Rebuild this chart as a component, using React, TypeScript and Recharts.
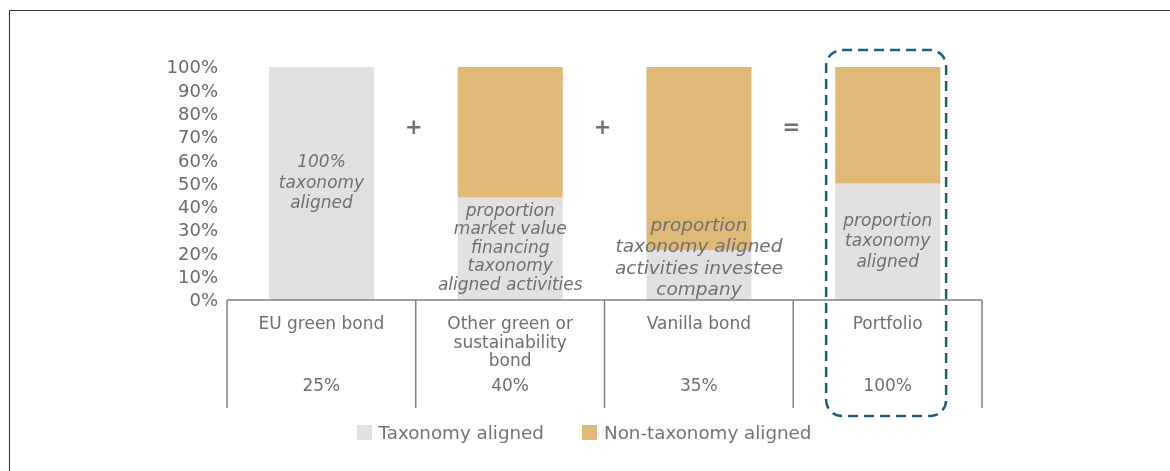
import React from 'react';
import { BarChart, Bar, XAxis, YAxis, Legend } from 'recharts';

const categories = ['EU green bond', 'Other green or\nsustainability\nbond', 'Vanilla bond', 'Portfolio'];
const weights = ['25%', '40%', '35%', '100%'];
const alignedValues = [100, 44, 21.5, 50];
const nonAlignedValues = [0, 56, 78.5, 50];
const operators = ['', '+', '+', '='];
const barLabels = [
  ['100%', 'taxonomy', 'aligned'],
  ['proportion', 'market value', 'financing', 'taxonomy', 'aligned activities'],
  ['proportion', 'taxonomy aligned', 'activities investee', 'company'],
  ['proportion', 'taxonomy', 'aligned'],
];
const yTicks = [0, 10, 20, 30, 40, 50, 60, 70, 80, 90, 100];
const seriesNames = ['Taxonomy aligned', 'Non-taxonomy aligned'];

const COLORS = ['#e1e1e1', '#e0b976'];
const TEXT = '#6f6f6f';
const FONT = '"DejaVu Sans", Verdana, sans-serif';
const labelStyles = [
  { fontSize: 17, lineHeight: 20.5, shift: -2 },
  { fontSize: 17, lineHeight: 18.5, shift: -2 },
  { fontSize: 18.5, lineHeight: 21.5, shift: -18.5 },
  { fontSize: 17, lineHeight: 20.5, shift: -1.5 },
];

const data = categories.map((name, i) => ({
  name,
  aligned: alignedValues[i],
  nonAligned: nonAlignedValues[i],
  alignedLabel: alignedValues[i],
}));

const XTick = (props: any) => {
  const { x, y, payload, index } = props;
  const half = payload && payload.offset ? payload.offset : 94.4;
  const lines = String(payload.value).split('\n');
  const i = index;
  const last = i === categories.length - 1;
  return (
    <g>
      <line x1={x - half} y1={y} x2={x - half} y2={y + 108} stroke="#808080" strokeWidth={1.5} />
      {last && <line x1={x + half} y1={y} x2={x + half} y2={y + 108} stroke="#808080" strokeWidth={1.5} />}
      {lines.map((l, k) => (
        <text key={k} x={x} y={y + 23 + k * 18.5} textAnchor="middle" dominantBaseline="central"
          fill={TEXT} fontSize={17} fontFamily={FONT}>{l}</text>
      ))}
      <text x={x} y={y + 85} textAnchor="middle" dominantBaseline="central" fill={TEXT} fontSize={17} fontFamily={FONT}>
        {weights[i]}
      </text>
      {operators[i] && (
        <text x={x - half - 2} y={y - 173} textAnchor="middle" dominantBaseline="central" fill="#707070"
          fontSize={21} fontWeight="bold" fontFamily={FONT}>{operators[i]}</text>
      )}
      {last && (
        <rect x={x - 61.5} y={y - 250} width={120} height={366} rx={16} ry={16} fill="none"
          stroke="#1b5f7d" strokeWidth={2.5} strokeDasharray="10 6" />
      )}
    </g>
  );
};

const BarText = (props: any) => {
  const { x, y, width, height, index } = props;
  const st = labelStyles[index];
  const lines = barLabels[index];
  const cx = x + width / 2;
  const cy = y + height / 2 + st.shift;
  const start = cy - ((lines.length - 1) * st.lineHeight) / 2;
  return (
    <g>
      {lines.map((l, k) => (
        <text key={k} x={cx} y={start + k * st.lineHeight} textAnchor="middle" dominantBaseline="central"
          fill={TEXT} fontSize={st.fontSize} fontStyle="italic" fontFamily={FONT}>{l}</text>
      ))}
    </g>
  );
};

const LegendContent = () => (
  <div style={{ display: 'flex', justifyContent: 'center', alignItems: 'center', height: 24, fontFamily: FONT }}>
    {seriesNames.map((n, i) => (
      <div key={n} style={{ display: 'flex', alignItems: 'center', marginRight: i === 0 ? 38 : 0 }}>
        <div style={{ width: 15, height: 15, background: COLORS[i], marginRight: 7 }} />
        <span style={{ fontSize: 18.3, color: '#737373' }}>{n}</span>
      </div>
    ))}
  </div>
);

export default function App() {
  return (
    <div style={{ position: 'relative', width: 1154, height: 455 }}>
      <div style={{ position: 'fixed', left: 9, top: 10, right: 0, bottom: 0, borderTop: '1.5px solid #3a3a3a', borderLeft: '1.5px solid #2a2a2a', pointerEvents: 'none' }} />
      <BarChart width={1154} height={455} data={data} margin={{ top: 59, right: 180, bottom: 19, left: 0 }} barSize={105}>
        <YAxis type="number" domain={[0, 100]} ticks={yTicks} interval={0} tickFormatter={(v: number) => `${v}%`}
          axisLine={false} tickLine={false} tickSize={0} tickMargin={9} width={219}
          tick={{ fill: '#6a6a6a', fontSize: 18, fontFamily: FONT }} />
        <XAxis dataKey="name" height={120} interval={0} tickLine={false} tickSize={0} tickMargin={0}
          axisLine={{ stroke: '#808080', strokeWidth: 1.5 }} tick={<XTick />} />
        <XAxis dataKey="name" xAxisId="lbl" hide />
        <Legend verticalAlign="bottom" content={<LegendContent />} wrapperStyle={{ left: 0, width: 1152 }} />
        <Bar dataKey="aligned" name={seriesNames[0]} stackId="a" fill={COLORS[0]} isAnimationActive={false} />
        <Bar dataKey="nonAligned" name={seriesNames[1]} stackId="a" fill={COLORS[1]} isAnimationActive={false} />
        <Bar dataKey="alignedLabel" xAxisId="lbl" fill="transparent" isAnimationActive={false} label={<BarText />} legendType="none" />
      </BarChart>
    </div>
  );
}
